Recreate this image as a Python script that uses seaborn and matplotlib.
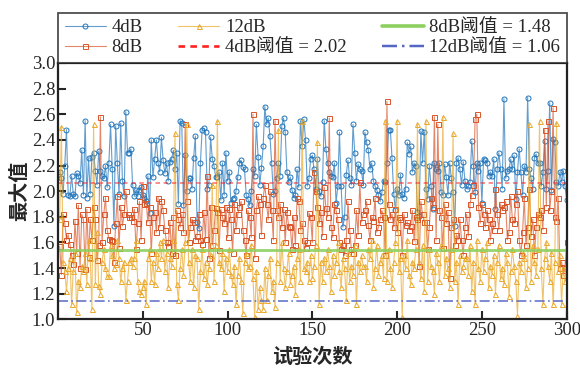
import numpy as np
import pandas as pd
import matplotlib
matplotlib.use("Agg")
import matplotlib.pyplot as plt
import seaborn as sns

# maximum value per trial
max_4db = [
    2.15, 2.10, 1.98, 2.20, 2.48, 1.97, 1.96, 2.12, 1.98, 1.96,
    2.14, 2.12, 2.06, 2.32, 1.97, 2.55, 1.95, 2.26, 1.98, 2.27,
    2.30, 2.16, 2.05, 2.31, 2.16, 2.12, 2.10, 2.20, 2.03, 2.22,
    2.52, 2.17, 1.73, 2.51, 2.22, 1.98, 2.53, 2.08, 1.96, 2.62,
    2.30, 2.30, 2.33, 2.05, 1.96, 2.01, 1.96, 2.01, 2.03, 1.97,
    1.95, 1.92, 2.12, 1.83, 2.40, 2.11, 2.25, 2.40, 2.22, 2.15,
    2.42, 2.24, 2.14, 2.22, 2.08, 2.23, 2.25, 2.32, 2.17, 2.30,
    1.90, 2.55, 2.53, 1.89, 2.28, 2.00, 2.10, 2.10, 2.02, 2.26,
    2.43, 1.76, 1.71, 2.22, 2.48, 2.49, 2.46, 2.02, 2.05, 2.42,
    2.25, 2.20, 2.11, 2.11, 2.15, 1.93, 2.22, 1.97, 2.30, 2.08,
    2.15, 1.91, 1.94, 1.95, 2.00, 2.11, 2.22, 2.24, 2.19, 2.17,
    1.97, 1.94, 1.89, 2.00, 2.17, 2.12, 2.52, 2.27, 2.05, 2.18,
    2.35, 2.66, 2.52, 2.57, 2.43, 2.22, 1.98, 2.00, 2.10, 2.22,
    2.12, 2.51, 2.57, 2.46, 2.15, 2.07, 2.11, 2.01, 1.95, 1.97,
    2.17, 2.03, 2.55, 2.35, 2.56, 2.40, 2.04, 2.10, 2.25, 2.28,
    2.17, 2.02, 2.25, 2.00, 1.96, 2.07, 2.55, 2.33, 2.22, 2.15,
    2.12, 2.11, 2.22, 1.91, 2.04, 2.46, 2.04, 1.72, 1.80, 2.13,
    2.24, 2.10, 2.05, 2.52, 2.30, 2.08, 2.21, 2.17, 2.16, 2.05,
    2.46, 2.38, 2.32, 2.17, 2.22, 2.08, 2.04, 2.01, 1.97, 1.92,
    1.99, 2.08, 2.07, 2.22, 2.48, 2.48, 2.26, 1.98, 1.85, 2.02,
    1.97, 2.13, 1.98, 1.95, 2.02, 2.38, 2.29, 2.35, 2.15, 2.22,
    2.20, 1.84, 1.81, 2.47, 2.22, 2.46, 2.02, 1.94, 2.20, 2.04,
    1.86, 2.22, 2.17, 2.16, 2.22, 1.99, 1.97, 2.21, 2.11, 1.97,
    2.22, 2.10, 1.99, 1.73, 2.22, 2.26, 2.17, 2.05, 2.23, 2.08,
    2.02, 2.04, 2.07, 2.39, 2.20, 1.99, 2.22, 2.16, 2.22, 1.91,
    2.25, 2.24, 2.22, 2.12, 2.15, 2.12, 2.25, 1.86, 2.17, 2.30,
    2.17, 2.02, 2.72, 2.10, 2.16, 2.17, 2.25, 2.17, 2.28, 1.94,
    2.15, 2.33, 2.15, 1.97, 2.20, 2.15, 2.73, 2.17, 2.10, 2.02,
    2.26, 2.29, 2.22, 2.22, 2.04, 2.15, 2.39, 2.02, 2.16, 2.69,
    2.01, 2.41, 2.38, 2.07, 2.04, 2.15, 2.07, 2.16, 2.04, 1.93,
]

max_8db = [
    1.57, 1.35, 1.82, 1.75, 1.62, 1.66, 1.59, 1.50, 1.43, 1.77,
    1.52, 1.89, 1.40, 1.82, 1.78, 1.39, 1.86, 1.49, 1.78, 1.62,
    1.88, 1.78, 1.46, 1.58, 2.58, 1.60, 1.82, 1.95, 1.70, 1.63,
    1.62, 1.61, 1.45, 1.75, 1.96, 1.56, 1.88, 1.73, 1.82, 2.00,
    1.82, 1.80, 1.80, 1.77, 1.86, 1.55, 1.75, 1.92, 1.62, 2.04,
    1.90, 1.91, 1.76, 1.88, 1.52, 1.80, 1.84, 1.68, 1.95, 1.72,
    1.92, 1.85, 1.70, 1.60, 1.57, 1.76, 1.52, 1.80, 1.50, 1.85,
    1.78, 1.72, 1.82, 1.68, 2.52, 1.92, 1.60, 1.72, 1.78, 1.76,
    1.62, 1.65, 1.82, 1.62, 1.59, 1.84, 1.63, 2.12, 1.48, 1.88,
    1.58, 1.70, 1.87, 1.84, 1.54, 1.86, 1.80, 1.75, 1.88, 1.64,
    1.86, 1.78, 1.52, 1.90, 1.70, 1.82, 1.88, 1.92, 1.70, 1.62,
    1.50, 1.85, 1.80, 1.64, 2.60, 1.48, 1.85, 1.96, 1.90, 1.66,
    1.95, 2.05, 1.90, 1.78, 2.00, 1.85, 1.62, 2.55, 1.85, 1.80,
    1.90, 1.72, 1.86, 1.60, 1.84, 1.73, 1.72, 1.55, 1.80, 1.58,
    1.95, 1.92, 1.70, 1.75, 1.62, 1.56, 1.60, 1.83, 1.80, 1.60,
    2.15, 2.00, 1.88, 1.75, 1.84, 1.65, 2.03, 1.87, 1.80, 2.57,
    1.72, 1.64, 1.90, 1.85, 1.78, 1.60, 1.55, 1.58, 1.50, 1.62,
    1.92, 1.70, 1.55, 1.52, 1.58, 1.85, 1.66, 2.07, 1.76, 1.82,
    1.85, 1.92, 1.74, 1.62, 1.80, 1.77, 1.95, 1.68, 1.72, 1.78,
    1.85, 1.80, 1.50, 2.70, 1.90, 1.78, 1.82, 1.72, 1.86, 1.68,
    1.80, 1.78, 1.50, 1.82, 1.74, 1.76, 1.70, 1.73, 1.85, 1.61,
    1.80, 1.78, 1.42, 1.92, 1.82, 1.76, 1.76, 1.55, 1.72, 1.95,
    1.88, 2.58, 1.62, 2.52, 1.85, 1.80, 1.56, 1.90, 1.75, 1.84,
    1.32, 1.72, 1.78, 1.58, 1.66, 1.62, 1.78, 1.62, 1.50, 1.72,
    1.82, 1.65, 1.90, 1.97, 2.05, 2.56, 2.60, 1.88, 1.75, 1.90,
    1.82, 1.72, 1.85, 1.78, 1.62, 1.75, 1.70, 2.02, 1.82, 1.70,
    1.90, 1.85, 1.88, 1.92, 1.62, 1.68, 1.96, 1.78, 1.75, 1.90,
    2.00, 1.62, 1.50, 1.68, 1.95, 1.58, 1.72, 2.02, 1.65, 1.78,
    1.50, 1.72, 1.82, 1.80, 1.85, 1.70, 2.48, 1.88, 2.55, 1.85,
    2.00, 2.65, 1.80, 1.77, 1.95, 1.40, 1.45, 1.35, 1.40, 1.60,
]

max_12db = [
    1.78, 2.50, 1.45, 1.38, 1.22, 1.40, 1.48, 1.12, 1.38, 1.52,
    1.06, 1.30, 1.25, 1.42, 1.38, 1.52, 1.28, 1.62, 1.48, 1.08,
    2.52, 1.28, 1.68, 1.26, 1.20, 1.45, 1.55, 1.40, 1.34, 1.34,
    1.58, 1.50, 1.40, 1.43, 1.62, 1.48, 1.30, 1.40, 1.45, 1.15,
    1.30, 1.45, 1.48, 1.42, 1.48, 1.62, 1.30, 1.22, 1.20, 1.25,
    1.30, 1.12, 1.48, 1.55, 1.30, 1.45, 1.28, 1.52, 1.40, 1.60,
    1.48, 1.62, 1.38, 1.52, 1.25, 1.48, 1.42, 1.62, 2.45, 1.28,
    1.15, 1.40, 1.55, 1.35, 1.60, 2.52, 1.45, 1.30, 1.55, 1.25,
    1.50, 1.48, 1.08, 1.38, 1.55, 1.32, 1.45, 1.28, 1.40, 1.50,
    2.05, 1.30, 1.58, 2.55, 1.45, 1.40, 1.52, 1.22, 1.48, 1.38,
    1.55, 1.35, 1.28, 1.42, 1.12, 1.35, 1.48, 1.30, 1.05, 1.45,
    1.52, 1.40, 1.42, 1.58, 1.32, 1.02, 1.38, 1.08, 1.25, 1.15,
    1.08, 1.40, 1.15, 1.35, 1.48, 1.22, 1.30, 1.10, 1.45, 2.48,
    1.30, 1.60, 1.40, 1.25, 1.38, 1.52, 1.28, 1.35, 1.42, 1.20,
    1.48, 1.55, 1.30, 2.55, 1.40, 1.38, 1.45, 1.30, 1.50, 1.32,
    1.42, 1.58, 2.38, 1.12, 1.45, 1.30, 1.48, 1.38, 1.55, 1.42,
    1.22, 1.50, 1.35, 1.45, 1.60, 1.38, 1.25, 1.48, 1.40, 1.15,
    1.52, 1.30, 1.42, 1.35, 1.58, 1.12, 1.45, 1.38, 1.50, 1.42,
    1.42, 1.30, 1.55, 1.48, 1.62, 1.25, 1.40, 1.58, 1.35, 1.45,
    1.50, 1.32, 2.55, 1.30, 1.55, 1.40, 1.25, 1.45, 1.60, 2.55,
    1.38, 1.48, 1.02, 1.50, 1.40, 1.62, 1.35, 1.28, 1.45, 1.40,
    1.55, 2.52, 1.45, 1.32, 1.58, 1.22, 2.55, 1.30, 1.55, 1.42,
    1.38, 1.20, 1.52, 1.45, 1.30, 1.58, 2.58, 1.35, 1.48, 1.40,
    1.25, 1.55, 2.45, 1.30, 1.45, 1.12, 1.50, 1.38, 1.42, 1.48,
    1.48, 1.35, 1.58, 1.22, 1.45, 1.12, 1.62, 1.40, 1.30, 1.55,
    1.38, 1.48, 1.60, 1.25, 1.42, 1.35, 1.50, 1.20, 1.45, 1.58,
    1.32, 1.40, 1.28, 1.52, 1.45, 1.18, 1.38, 1.55, 1.42, 1.30,
    1.03, 1.45, 1.38, 1.52, 1.48, 1.25, 1.40, 2.52, 1.30, 1.58,
    1.45, 1.35, 1.55, 2.55, 1.40, 1.12, 1.48, 1.60, 1.42, 1.30,
    1.52, 1.12, 1.45, 2.53, 1.38, 1.50, 1.12, 1.40, 1.30, 1.45,
]

series_names = ["4dB", "8dB", "12dB"]
threshold_names = ["4dB阈值 = 2.02", "8dB阈值 = 1.48", "12dB阈值 = 1.06"]
# heights at which the threshold lines sit in the picture
threshold_lines = [2.065, 1.545, 1.147]

sns.set_style("ticks")
plt.rcParams["font.family"] = ["Liberation Serif", "Noto Sans CJK SC"]

df = pd.DataFrame({
    "trial": np.arange(1, len(max_4db) + 1),
    "4dB": max_4db,
    "8dB": max_8db,
    "12dB": max_12db,
})

fig = plt.figure(figsize=(5.8, 3.68), dpi=100)
ax = fig.add_axes([0.1, 0.132, 0.877, 0.697])

colors = ["#1f74ba", "#d9552a", "#eaa82a"]
markers = ["o", "s", "^"]
for name, c, m in zip(series_names, colors, markers):
    line_c = matplotlib.colors.to_rgba(c, 0.7)
    sns.lineplot(data=df, x="trial", y=name, ax=ax, color=line_c, lw=0.8,
                 marker=m, markersize=3.6, markerfacecolor="none",
                 markeredgecolor=c, markeredgewidth=0.7, label=name)

thr_styles = [
    dict(color="#ff2020", ls=(0, (2.5, 2)), lw=1.3, alpha=0.55),
    dict(color="#8ccf5f", ls="-", lw=2.0, alpha=0.9),
    dict(color="#5567c4", ls=(0, (6, 2, 1, 2)), lw=1.2, alpha=0.9),
]
leg_handles = []
for y, lab, st in zip(threshold_lines, threshold_names, thr_styles):
    ax.axhline(y, **st)
    leg_handles.append(plt.Line2D([], [], color=st["color"], ls=st["ls"],
                                  lw=st["lw"] + 0.6, label=lab))

ax.set_xlim(0, 300)
ax.set_ylim(1.0, 3.0)
ax.set_xticks(np.arange(50, 301, 50))
ax.set_yticks(np.arange(1.0, 3.01, 0.2))
ax.set_yticklabels([f"{v:.1f}" for v in np.arange(1.0, 3.01, 0.2)])
ax.tick_params(direction="in", length=6, width=1.5, labelsize=13.5,
               top=False, right=False, pad=2)
for s in ax.spines.values():
    s.set_linewidth(1.6)
    s.set_color("#222222")

ax.set_xlabel("试验次数", fontsize=14.5, fontweight="bold", labelpad=6)
ax.set_ylabel("最大值", fontsize=14.5, fontweight="bold", labelpad=1)

h, l = ax.get_legend_handles_labels()
ax.legend(handles=h + leg_handles, ncol=3, loc="lower left",
          bbox_to_anchor=(0, 1, 1, 0.2), mode="expand", borderaxespad=0,
          fontsize=13.5, frameon=True, fancybox=False, edgecolor="#222222",
          handlelength=2.2, handletextpad=0.3, labelspacing=0.15,
          borderpad=0.35, columnspacing=1.0)
ax.get_legend().get_frame().set_linewidth(1.3)

fig.savefig("out.png", dpi=100)
